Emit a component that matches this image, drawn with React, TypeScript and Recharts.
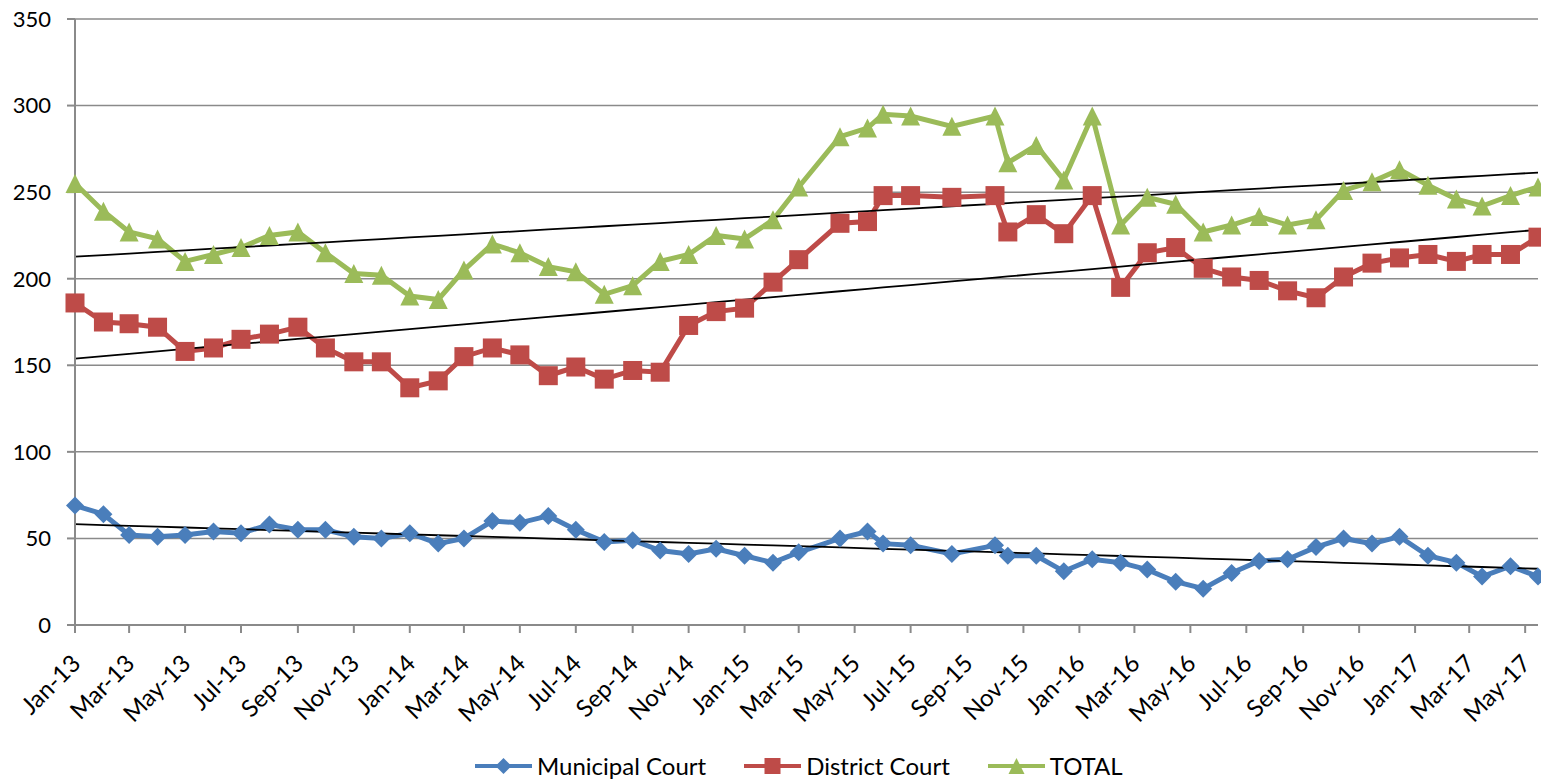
import { CartesianGrid, Line, LineChart, XAxis, YAxis } from "recharts";

const dates = [
  "2013-01-01", "2013-02-01", "2013-03-01", "2013-04-01", "2013-05-01", "2013-06-01",
  "2013-07-01", "2013-08-01", "2013-09-01", "2013-10-01", "2013-11-01", "2013-12-01",
  "2014-01-01", "2014-02-01", "2014-03-01", "2014-04-01", "2014-05-01", "2014-06-01",
  "2014-07-01", "2014-08-01", "2014-09-01", "2014-10-01", "2014-11-01", "2014-12-01",
  "2015-01-01", "2015-02-01", "2015-03-01", "2015-04-15", "2015-05-15", "2015-06-01",
  "2015-07-01", "2015-08-15", "2015-10-01", "2015-10-15", "2015-11-15", "2015-12-15",
  "2016-01-15", "2016-02-15", "2016-03-15", "2016-04-15", "2016-05-15", "2016-06-15",
  "2016-07-15", "2016-08-15", "2016-09-15", "2016-10-15", "2016-11-15", "2016-12-15",
  "2017-01-15", "2017-02-15", "2017-03-15", "2017-04-15", "2017-05-15",
];

const municipal = [
  69, 64, 52, 51, 52, 54, 53, 58, 55, 55, 51, 50,
  53, 47, 50, 60, 59, 63, 55, 48, 49, 43, 41, 44,
  40, 36, 42, 50, 54, 47, 46, 41, 46, 40, 40, 31,
  38, 36, 32, 25, 21, 30, 37, 38, 45, 50, 47, 51,
  40, 36, 28, 34, 28,
];

const district = [
  186, 175, 174, 172, 158, 160, 165, 168, 172, 160, 152, 152,
  137, 141, 155, 160, 156, 144, 149, 142, 147, 146, 173, 181,
  183, 198, 211, 232, 233, 248, 248, 247, 248, 227, 237, 226,
  248, 195, 215, 218, 206, 201, 199, 193, 189, 201, 209, 212,
  214, 210, 214, 214, 224,
];

const total = [
  255, 239, 227, 223, 210, 214, 218, 225, 227, 215, 203, 202,
  190, 188, 205, 220, 215, 207, 204, 191, 196, 210, 214, 225,
  223, 234, 253, 282, 287, 295, 294, 288, 294, 267, 277, 257,
  294, 231, 247, 243, 227, 231, 236, 231, 234, 251, 256, 263,
  254, 246, 242, 248, 253,
];

const xTickDates = [
  "2013-01-01", "2013-03-01", "2013-05-01", "2013-07-01", "2013-09-01", "2013-11-01",
  "2014-01-01", "2014-03-01", "2014-05-01", "2014-07-01", "2014-09-01", "2014-11-01",
  "2015-01-01", "2015-03-01", "2015-05-01", "2015-07-01", "2015-09-01", "2015-11-01",
  "2016-01-01", "2016-03-01", "2016-05-01", "2016-07-01", "2016-09-01", "2016-11-01",
  "2017-01-01", "2017-03-01", "2017-05-01",
];

const yTicks = [0, 50, 100, 150, 200, 250, 300, 350];

const MONTHS = ["Jan", "Feb", "Mar", "Apr", "May", "Jun", "Jul", "Aug", "Sep", "Oct", "Nov", "Dec"];

const BLUE = "#4a7ebb";
const RED = "#be4b48";
const GREEN = "#9bbb59";
const FONT = "Lato, 'Noto Sans', sans-serif";

const toTime = (d: string) => Date.parse(d + "T00:00:00Z");

// least squares trend, like excel's linear trendline on a date axis
function linearFit(xs: number[], ys: number[]) {
  const n = xs.length;
  const mx = xs.reduce((a, b) => a + b, 0) / n;
  const my = ys.reduce((a, b) => a + b, 0) / n;
  let num = 0;
  let den = 0;
  for (let i = 0; i < n; i++) {
    num += (xs[i] - mx) * (ys[i] - my);
    den += (xs[i] - mx) * (xs[i] - mx);
  }
  const slope = num / den;
  return (x: number) => my + slope * (x - mx);
}

const times = dates.map(toTime);
const muniTrend = linearFit(times, municipal);
const districtTrend = linearFit(times, district);
const totalTrend = linearFit(times, total);

const data = dates.map((d, i) => ({
  t: times[i],
  municipal: municipal[i],
  district: district[i],
  total: total[i],
  muniTrend: muniTrend(times[i]),
  districtTrend: districtTrend(times[i]),
  totalTrend: totalTrend(times[i]),
}));

const xTicks = xTickDates.map(toTime);

function formatDate(value: number) {
  const d = new Date(value);
  return `${MONTHS[d.getUTCMonth()]}-${String(d.getUTCFullYear()).slice(2)}`;
}

function Diamond({ cx, cy, color, r = 9 }: { cx: number; cy: number; color: string; r?: number }) {
  return <path d={`M${cx},${cy - r}L${cx + r},${cy}L${cx},${cy + r}L${cx - r},${cy}Z`} fill={color} />;
}

function Square({ cx, cy, color, s = 9.5 }: { cx: number; cy: number; color: string; s?: number }) {
  return <rect x={cx - s} y={cy - s} width={s * 2} height={s * 2} fill={color} />;
}

function Triangle({ cx, cy, color, s = 9.5 }: { cx: number; cy: number; color: string; s?: number }) {
  return <path d={`M${cx},${cy - s}L${cx + s},${cy + s}L${cx - s},${cy + s}Z`} fill={color} />;
}

function XTick({ x, y, payload }: any) {
  return (
    <g transform={`translate(${x + 7},${y + 30})`}>
      <text x={0} y={0} textAnchor="end" transform="rotate(-45)" fontSize={24} fill="#000" fontFamily={FONT}>
        {formatDate(payload.value)}
      </text>
    </g>
  );
}

const legendItems = [
  { name: "Municipal Court", color: BLUE, shape: "diamond" },
  { name: "District Court", color: RED, shape: "square" },
  { name: "TOTAL", color: GREEN, shape: "triangle" },
];

function LegendIcon({ color, shape }: { color: string; shape: string }) {
  return (
    <svg width={57} height={24} style={{ display: "block" }}>
      <line x1={0} y1={12} x2={57} y2={12} stroke={color} strokeWidth={4} />
      {shape === "diamond" && <Diamond cx={28.5} cy={12} color={color} r={8} />}
      {shape === "square" && <Square cx={28.5} cy={12} color={color} s={8} />}
      {shape === "triangle" && <Triangle cx={28.5} cy={12} color={color} s={8} />}
    </svg>
  );
}

export default function App() {
  return (
    <div style={{ position: "relative", width: 1541, height: 779, background: "#fff", fontFamily: FONT }}>
      <style>{"body{margin:0}"}</style>
      <LineChart width={1541} height={779} data={data} margin={{ top: 19, right: 3, bottom: 79, left: 0 }}>
        <CartesianGrid vertical={false} stroke="#8a8a8a" strokeWidth={1.5} />
        <XAxis
          dataKey="t"
          type="number"
          domain={[times[0], times[times.length - 1]]}
          ticks={xTicks}
          interval={0}
          height={75}
          tickSize={8}
          stroke="#8a8a8a"
          strokeWidth={2}
          tick={<XTick />}
        />
        <YAxis
          type="number"
          domain={[0, 350]}
          ticks={yTicks}
          width={75}
          tickSize={8}
          tickMargin={16}
          stroke="#8a8a8a"
          strokeWidth={2}
          tick={{ fill: "#000", fontSize: 22, fontFamily: FONT }}
        />
        <Line
          dataKey="municipal"
          stroke={BLUE}
          strokeWidth={5}
          isAnimationActive={false}
          dot={(p: any) => <Diamond key={`m${p.index}`} cx={p.cx} cy={p.cy} color={BLUE} />}
        />
        <Line
          dataKey="district"
          stroke={RED}
          strokeWidth={5}
          isAnimationActive={false}
          dot={(p: any) => <Square key={`d${p.index}`} cx={p.cx} cy={p.cy} color={RED} />}
        />
        <Line
          dataKey="total"
          stroke={GREEN}
          strokeWidth={5}
          isAnimationActive={false}
          dot={(p: any) => <Triangle key={`t${p.index}`} cx={p.cx} cy={p.cy} color={GREEN} />}
        />
        <Line dataKey="muniTrend" stroke="#000" strokeWidth={1.8} dot={false} isAnimationActive={false} />
        <Line dataKey="districtTrend" stroke="#000" strokeWidth={1.8} dot={false} isAnimationActive={false} />
        <Line dataKey="totalTrend" stroke="#000" strokeWidth={1.8} dot={false} isAnimationActive={false} />
      </LineChart>
      <div
        style={{
          position: "absolute",
          left: 475,
          top: 752,
          height: 28,
          display: "flex",
          alignItems: "center",
          gap: 38,
          fontSize: 24,
          lineHeight: "28px",
          color: "#000",
          whiteSpace: "nowrap",
        }}
      >
        {legendItems.map((item) => (
          <div key={item.name} style={{ display: "flex", alignItems: "center", gap: 5 }}>
            <LegendIcon color={item.color} shape={item.shape} />
            <span>{item.name}</span>
          </div>
        ))}
      </div>
    </div>
  );
}
